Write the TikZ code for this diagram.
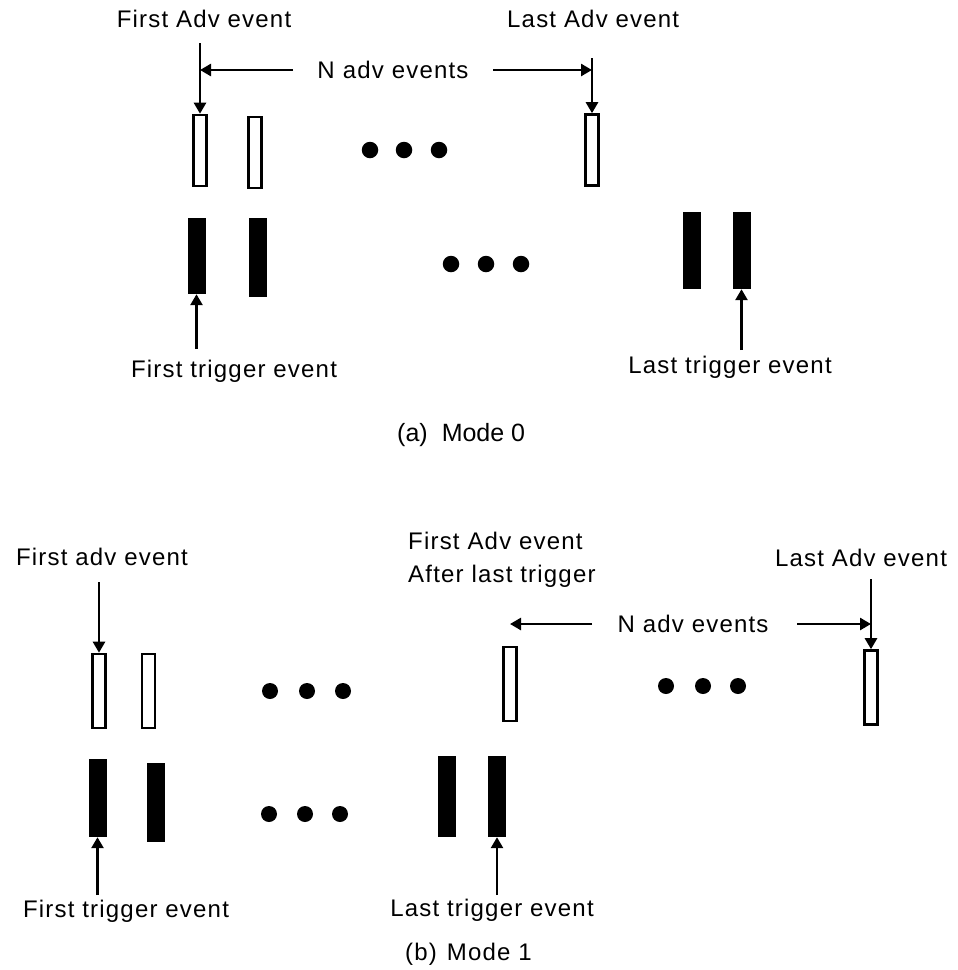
\documentclass[tikz,border=0pt]{standalone}
\usepackage{fontspec}
\setmainfont{Liberation Sans}
\newfontfamily\labfont[LetterSpace=5]{Liberation Sans}
\usetikzlibrary{arrows.meta}
\begin{document}
\begin{tikzpicture}[x=1pt,y=-1pt,
  lbl/.style={font=\labfont\fontsize{24}{33}\selectfont, inner sep=0pt},
  capt/.style={font=\fontsize{25}{28}\selectfont, inner sep=0pt},
  arr/.style={line width=2.6pt, -{Triangle[length=11pt,width=12pt]}},
  hollow/.style={draw, line width=2.6pt, inner sep=0pt, minimum width=13pt, minimum height=71pt},
  bar/.style={fill=black, inner sep=0pt, minimum width=18pt},
  dotn/.style={circle, fill=black, inner sep=0pt, minimum size=16.5pt}]
\useasboundingbox (0,0) rectangle (958,970);

% ================= Mode 0 =================
\node[lbl, anchor=base] (fa0) at (204,27) {First Adv event};
\node[lbl, anchor=base west] (la0) at (507,27) {Last Adv event};
\node[lbl, anchor=base] (n0) at (393,78) {N\hspace{8pt}adv events};

\node[hollow] (a01) at (200,150.5) {};
\node[hollow] (a02) at (255,152.5) {};
\node[hollow] (a03) at (592,150) {};

\node[dotn] (d01) at (370,150) {};
\node[dotn] (d02) at (404,150) {};
\node[dotn] (d03) at (439,150) {};

\node[bar, minimum height=76pt] (t01) at (196.5,256) {};
\node[bar, minimum height=79pt] (t02) at (258,257.5) {};
\node[bar, minimum height=77pt] (t03) at (691.5,250.5) {};
\node[bar, minimum height=77pt] (t04) at (741.5,250.5) {};

\node[dotn] (e01) at (451,264) {};
\node[dotn] (e02) at (486,264) {};
\node[dotn] (e03) at (521,264) {};

\coordinate (v01) at (200,43);
\coordinate (v03) at (592,58);
\draw[arr] (v01) -- (a01.north);
\draw[arr] (v03) -- (a03.north);
\coordinate (h0l) at (293,70);
\coordinate (h0r) at (493,70);
\draw[arr] (h0l) -- (h0l -| v01);
\draw[arr] (h0r) -- (h0r -| v03);

\node[lbl, anchor=base] (ft0) at (234,377) {First trigger event};
\node[lbl, anchor=base] (lt0) at (730,373) {Last trigger event};
\coordinate (u01) at (196.5,349);
\coordinate (u04) at (741.5,350);
\draw[arr] (u01) -- (t01.south);
\draw[arr] (u04) -- (t04.south);

\node[capt, anchor=base west] (cap0) at (397,441) {(a)\hspace{14pt}Mode 0};

% ================= Mode 1 =================
\node[lbl, anchor=base] (fa1) at (102,565) {First adv event};
\node[lbl, anchor=north west, align=left] (fl1) at (408,532) {First Adv event\\After last trigger};
\node[lbl, anchor=base] (la1) at (861,566) {Last Adv event};
\node[lbl, anchor=base] (n1) at (693,632) {N\hspace{8pt}adv events};

\node[hollow, minimum height=74pt] (a11) at (99,691) {};
\node[hollow, minimum height=74pt] (a12) at (148.5,691) {};
\node[hollow, minimum height=74pt] (a13) at (510,684) {};
\node[hollow, minimum height=74pt] (a14) at (871,687.5) {};

\node[dotn, minimum size=16pt] (d11) at (270,691) {};
\node[dotn, minimum size=16pt] (d12) at (307,691) {};
\node[dotn, minimum size=16pt] (d13) at (343,691) {};
\node[dotn, minimum size=16pt] (d14) at (666,686) {};
\node[dotn, minimum size=16pt] (d15) at (703,686) {};
\node[dotn, minimum size=16pt] (d16) at (738,686) {};

\node[bar, minimum height=78pt] (t11) at (97.5,798) {};
\node[bar, minimum height=79pt] (t12) at (155.5,802.5) {};
\node[bar, minimum height=81pt] (t13) at (446.5,796.5) {};
\node[bar, minimum height=81pt] (t14) at (497,796.5) {};

\node[dotn, minimum size=16pt] (e11) at (269,814) {};
\node[dotn, minimum size=16pt] (e12) at (305,814) {};
\node[dotn, minimum size=16pt] (e13) at (340,814) {};

\coordinate (v11) at (99,582);
\coordinate (v14) at (871,579);
\draw[arr] (v11) -- (a11.north);
\draw[arr] (v14) -- (a14.north);
\coordinate (h1l) at (592,624);
\coordinate (h1r) at (797,624);
\draw[arr] (h1l) -- (h1l -| a13.north);
\draw[arr] (h1r) -- (h1r -| v14);

\node[lbl, anchor=base] (ft1) at (126,917) {First trigger event};
\node[lbl, anchor=base] (lt1) at (492,916) {Last trigger event};
\coordinate (u11) at (97.5,895);
\coordinate (u14) at (497,895);
\draw[arr] (u11) -- (t11.south);
\draw[arr] (u14) -- (t14.south);

\node[lbl, anchor=base west] (cap1) at (405,960) {(b)\hspace{10pt}Mode 1};
\end{tikzpicture}
\end{document}
